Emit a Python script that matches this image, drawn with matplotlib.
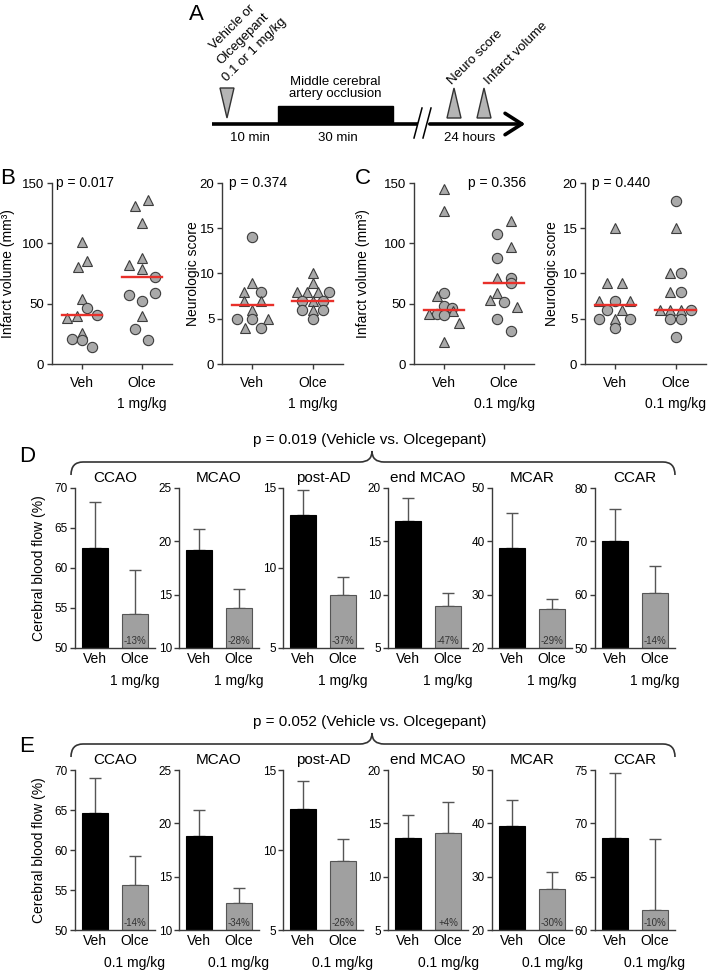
import numpy as np
import matplotlib.pyplot as plt
from matplotlib.path import Path
from matplotlib.patches import PathPatch, Polygon, Rectangle, FancyArrowPatch

W, H = 709, 971
plt.rcParams['font.family'] = ['Liberation Sans', 'DejaVu Sans']

# ---- data: panel B / C scatter (values, marker per animal, x jitter) ----
groups = ["Veh", "Olce"]

b_vol_veh = [101, 85, 80.6, 54, 46, 41, 40, 38, 26, 21, 20, 14]
b_vol_veh_sym = "^^^^oo^^^ooo"
b_vol_veh_dx = [0, .15, -.15, 0, .16, .49, -.18, -.49, 0, -.32, 0, .32]
b_vol_olce = [136, 131, 116.5, 88, 82, 79, 72, 59, 57, 52, 40, 29, 20]
b_vol_olce_sym = "^^^^^^oooo^oo"
b_vol_olce_dx = [.2, -.25, 0, 0, -.45, 0, .42, .42, -.45, 0, 0, -.25, .2]

b_neu_veh = [14, 9, 8, 8, 7, 7, 6, 5, 5, 5, 4, 4]
b_neu_veh_sym = "o^^o^^^oo^^o"
b_neu_veh_dx = [0, 0, -.27, .28, -.27, .28, 0, -.51, 0, .53, -.23, .28]
b_neu_olce = [10, 9, 8, 8, 8, 8, 7, 7, 7, 6, 6, 6, 5]
b_neu_olce_sym = "^^^^^oo^oo^oo"
b_neu_olce_dx = [0, 0, -.52, -.19, .18, .53, -.36, 0, .34, -.36, 0, .34, 0]

c_vol_veh = [144.7, 127, 59, 56, 48, 46, 44, 41.5, 41.5, 40.5, 34, 18.5]
c_vol_veh_sym = "^^o^oo^o^o^^"
c_vol_veh_dx = [0, 0, 0, -.25, 0, .25, .3, -.25, -.5, 0, .5, 0]
c_vol_olce = [118.7, 108, 97, 88, 71.5, 71.5, 67, 59, 53, 51.6, 47.5, 37, 27.6]
c_vol_olce_sym = "^o^o^oo^^o^oo"
c_vol_olce_dx = [.23, -.23, .23, -.23, -.23, .23, .23, -.23, -.47, 0, .43, -.23, .23]

c_neu_veh = [15, 9, 9, 7, 7, 7, 6, 6, 5, 5, 5, 4]
c_neu_veh_sym = "^^^^o^o^o^oo"
c_neu_veh_dx = [0, -.27, .23, -.53, 0, .5, -.27, .23, -.53, 0, .5, 0]
c_neu_olce = [18, 15, 10, 10, 8, 8, 6, 6, 6, 6, 5, 5, 3]
c_neu_olce_sym = "o^^o^o^^^oooo"
c_neu_olce_dx = [0, 0, -.2, .16, -.2, .16, -.53, -.2, .16, .52, -.2, .16, 0]

p_b = ["p = 0.017", "p = 0.374"]
p_c = ["p = 0.356", "p = 0.440"]

# ---- data: panel D / E bars (mean, upper SD) ----
regions = ["CCAO", "MCAO", "post-AD", "end MCAO", "MCAR", "CCAR"]

d_veh = [62.5, 19.2, 13.3, 16.9, 38.7, 70.1]
d_veh_sd = [5.7, 1.95, 1.6, 2.2, 6.6, 6.0]
d_olce = [54.2, 13.75, 8.3, 8.9, 27.3, 60.4]
d_olce_sd = [5.6, 1.75, 1.15, 1.25, 1.8, 4.9]
d_pct = ["-13%", "-28%", "-37%", "-47%", "-29%", "-14%"]
d_ylim = [(50, 70), (10, 25), (5, 15), (5, 20), (20, 50), (50, 80)]
d_step = [5, 5, 5, 5, 10, 10]

e_veh = [64.6, 18.8, 12.55, 13.6, 39.5, 68.6]
e_veh_sd = [4.4, 2.45, 1.78, 2.2, 4.8, 6.15]
e_olce = [55.6, 12.5, 9.3, 14.1, 27.6, 61.9]
e_olce_sd = [3.6, 1.4, 1.4, 2.9, 3.2, 6.6]
e_pct = ["-14%", "-34%", "-26%", "+4%", "-30%", "-10%"]
e_ylim = [(50, 70), (10, 25), (5, 15), (5, 20), (20, 50), (60, 75)]
e_step = [5, 5, 5, 5, 10, 5]

p_d = "p = 0.019 (Vehicle vs. Olcegepant)"
p_e = "p = 0.052 (Vehicle vs. Olcegepant)"

AX = '#3a3a3a'
PT = '#a9a9a9'
BAR_GRAY = '#a0a0a0'
RED = '#e8302a'

fig = plt.figure(figsize=(W / 100, H / 100), dpi=100)


def px_axes(x0, y0, x1, y1):
    return fig.add_axes([x0 / W, 1 - y1 / H, (x1 - x0) / W, (y1 - y0) / H])


def style(ax):
    ax.spines['top'].set_visible(False)
    ax.spines['right'].set_visible(False)
    for s in ['left', 'bottom']:
        ax.spines[s].set_color(AX)
        ax.spines[s].set_linewidth(1.0)
    ax.tick_params(color=AX, width=1.0, length=3.5, direction='out')
    ax.patch.set_visible(False)


# overlay in pixel coordinates for schematic, braces and letters
ov = fig.add_axes([0, 0, 1, 1], zorder=-1)
ov.set_xlim(0, W)
ov.set_ylim(H, 0)
ov.axis('off')

# ---- panel A schematic ----
ov.plot([212, 418], [124, 124], color='k', lw=2.6, solid_capstyle='butt')
ov.add_patch(FancyArrowPatch((427, 124), (528, 124), arrowstyle='->,head_length=0.55,head_width=0.35',
                             mutation_scale=22, lw=2.6, color='k'))
ov.add_patch(Rectangle((278, 106), 115, 17, color='k'))
for xs in (414, 423):
    ov.plot([xs + 8, xs], [108, 138], color='k', lw=1.1)
ov.add_patch(Polygon([(220, 88), (234, 88), (227, 118)], closed=True, fc='#b5b5b5', ec='#333333', lw=1))
for xc in (454, 484):
    ov.add_patch(Polygon([(xc - 7, 118), (xc + 7, 118), (xc, 88)], closed=True, fc='#b5b5b5', ec='#333333', lw=1))
for txt, (x, y) in zip(["Vehicle or", "Olcegepant", "0.1 or 1 mg/kg"], [(232, 27), (243.5, 38.5), (255, 50)]):
    ov.text(x, y, txt, rotation=45, rotation_mode='anchor', ha='center', va='center', fontsize=9.5)
ov.text(452, 85, "Neuro score", rotation=45, rotation_mode='anchor', ha='left', va='baseline', fontsize=9.5)
ov.text(489, 85, "Infarct volume", rotation=45, rotation_mode='anchor', ha='left', va='baseline', fontsize=9.5)
ov.text(335, 88, "Middle cerebral\nartery occlusion", ha='center', va='center', fontsize=9.5, linespacing=1.1)
ov.text(250, 138, "10 min", ha='center', va='center', fontsize=9.5)
ov.text(338, 138, "30 min", ha='center', va='center', fontsize=9.5)
ov.text(470, 138, "24 hours", ha='center', va='center', fontsize=9.5)

# panel letters
for letter, x, y in [("A", 196, 15), ("B", 8, 179), ("C", 363, 179), ("D", 27, 457), ("E", 27, 746)]:
    ov.text(x, y, letter, ha='center', va='center', fontsize=16)


def dose_label(ax, x, dose, dy):
    # second line under the "Olce" tick label
    ax.annotate(dose, xy=(x, 0), xycoords=('data', 'axes fraction'), xytext=(0, dy),
                textcoords='offset points', ha='center', va='center', fontsize=10)


# ---- scatter panels ----
def scatter_panel(box, data, ylim, step, dose, ptxt, px, ylabel, ylab_x):
    ax = px_axes(*box)
    style(ax)
    for xc, (vals, syms, dx) in zip([1, 3], data):
        for v, s, d in zip(vals, syms, dx):
            ax.plot(xc + d, v, marker=s, ms=7.6 if s == '^' else 7.4, mfc=PT, mec='#3c3c3c', mew=0.8,
                    ls='none', clip_on=False, zorder=2)
        med = np.median(vals)
        ax.plot([xc - 0.67, xc + 0.67], [med, med], color=RED, lw=1.7, zorder=3)
    ax.set_xlim(0, 4)
    ax.set_ylim(*ylim)
    ax.set_yticks(np.arange(ylim[0], ylim[1] + 1, step))
    ax.set_xticks([1, 3])
    ax.set_xticklabels(groups)
    ax.tick_params(axis='y', labelsize=9.5, pad=2)
    ax.tick_params(axis='x', labelsize=10, pad=5)
    dose_label(ax, 3, dose, -28.5)
    ax.text(px, 1.0, ptxt, transform=ax.transAxes, ha='left', va='center', fontsize=10)
    fig.text(ylab_x / W, 1 - (box[1] + box[3]) / 2 / H, ylabel, rotation=90, ha='center', va='center', fontsize=10)


scatter_panel((52, 183, 172, 364),
              [(b_vol_veh, b_vol_veh_sym, b_vol_veh_dx), (b_vol_olce, b_vol_olce_sym, b_vol_olce_dx)],
              (0, 150), 50, "1 mg/kg", p_b[0], 0.035, "Infarct volume (mm³)", 8)
scatter_panel((222, 183, 343, 364),
              [(b_neu_veh, b_neu_veh_sym, b_neu_veh_dx), (b_neu_olce, b_neu_olce_sym, b_neu_olce_dx)],
              (0, 20), 5, "1 mg/kg", p_b[1], 0.058, "Neurologic score", 193)
scatter_panel((414, 183, 534, 364),
              [(c_vol_veh, c_vol_veh_sym, c_vol_veh_dx), (c_vol_olce, c_vol_olce_sym, c_vol_olce_dx)],
              (0, 150), 50, "0.1 mg/kg", p_c[0], 0.45, "Infarct volume (mm³)", 363)
scatter_panel((585, 183, 706, 364),
              [(c_neu_veh, c_neu_veh_sym, c_neu_veh_dx), (c_neu_olce, c_neu_olce_sym, c_neu_olce_dx)],
              (0, 20), 5, "0.1 mg/kg", p_c[1], 0.058, "Neurologic score", 552)


# ---- bar panels ----
def brace(x0, x1, y, xt, rise=11, drop=13, r=12):
    verts = [(x0, y + drop), (x0, y), (x0 + r, y), (xt - r, y), (xt, y), (xt, y - rise),
             (xt, y), (xt + r, y), (x1 - r, y), (x1, y), (x1, y + drop)]
    codes = [Path.MOVETO, Path.CURVE3, Path.CURVE3, Path.LINETO, Path.CURVE3, Path.CURVE3,
             Path.CURVE3, Path.CURVE3, Path.LINETO, Path.CURVE3, Path.CURVE3]
    ov.add_patch(PathPatch(Path(verts, codes), fc='none', ec='#333333', lw=1.2))


def bar_row(top, veh, veh_sd, olce, olce_sd, pct, ylims, steps, dose, ptxt):
    lefts = [75, 179, 283, 388, 492, 595]
    for i, name in enumerate(regions):
        lo, hi = ylims[i]
        ax = px_axes(lefts[i], top, lefts[i] + 80, top + 160)
        style(ax)
        ax.bar([0, 1], [veh[i] - lo, olce[i] - lo], bottom=lo, width=0.67,
               color=['black', BAR_GRAY], edgecolor=['black', '#555555'], linewidth=0.8, zorder=2)
        ax.errorbar([0, 1], [veh[i], olce[i]], yerr=[[0, 0], [veh_sd[i], olce_sd[i]]], fmt='none',
                    ecolor='#555555', elinewidth=1.0, capsize=4.3, capthick=1.0, zorder=1)
        ax.text(1, lo + (hi - lo) * 0.045, pct[i], ha='center', va='center', fontsize=7, color='#333333', zorder=3)
        ax.set_xlim(-0.5, 1.5)
        ax.set_ylim(lo, hi)
        ax.set_yticks(np.arange(lo, hi + 0.1, steps[i]))
        ax.set_xticks([0, 1])
        ax.set_xticklabels(groups)
        ax.tick_params(axis='x', length=0, labelsize=10, pad=3)
        ax.tick_params(axis='y', labelsize=8.5, pad=1.5)
        dose_label(ax, 1, dose, -23.5)
        ax.annotate(name, xy=(0.5, 1), xycoords='axes fraction', xytext=(0, 4.5),
                    textcoords='offset points', ha='center', va='baseline', fontsize=11)
    fig.text(39 / W, 1 - (top + 80) / H, "Cerebral blood flow (%)", rotation=90,
             ha='center', va='center', fontsize=10)
    ov.text(370, top - 48, ptxt, ha='center', va='center', fontsize=11)
    brace(71, 675, top - 26, 372)


bar_row(488, d_veh, d_veh_sd, d_olce, d_olce_sd, d_pct, d_ylim, d_step, "1 mg/kg", p_d)
bar_row(770, e_veh, e_veh_sd, e_olce, e_olce_sd, e_pct, e_ylim, e_step, "0.1 mg/kg", p_e)

fig.savefig('out.png', dpi=100)
